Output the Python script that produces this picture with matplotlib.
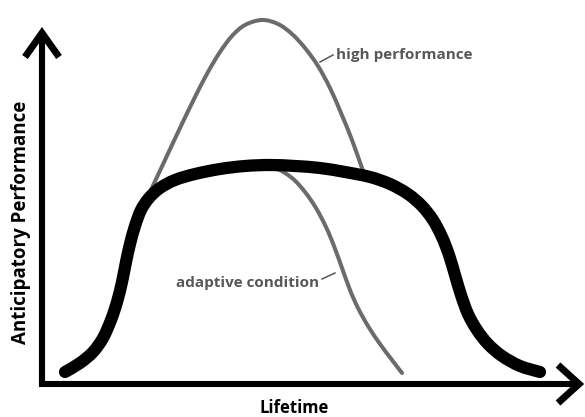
import matplotlib
matplotlib.use("Agg")
import matplotlib.pyplot as plt
from matplotlib.path import Path
from matplotlib.patches import PathPatch

# readings: x = lifetime, y = anticipatory performance (arbitrary units)
adaptive_x = [23, 38, 51, 61, 69, 75, 80, 84, 88, 93, 99, 107, 118, 133, 153, 178, 203, 228, 253,
              278, 303, 328, 348, 366, 380, 391, 400, 407, 413, 419, 426, 435, 446, 460, 478, 498]
adaptive_y = [12, 21, 32, 46, 64, 82, 102, 122, 140, 158, 174, 186, 196, 204, 210, 215, 218, 219, 218,
              216, 212, 207, 200, 190, 178, 164, 147, 129, 109, 89, 70, 54, 40, 28, 18, 12]

high_x = [108, 123, 138, 153, 166, 178, 190, 203, 220, 236, 250, 263, 276, 288, 299, 310, 320, 324]
high_y = [192, 224, 256, 287, 312, 332, 348, 359, 364, 360, 350, 336, 318, 296, 271, 244, 216, 206]

cond_x = [213, 233, 250, 263, 274, 284, 292, 300, 308, 316, 326, 338, 350, 360]
cond_y = [218, 216, 206, 192, 176, 157, 138, 116, 94, 76, 58, 40, 24, 11]

grey = "#6b6b6b"
label_grey = "#585858"
plt.rcParams['font.family'] = ['Open Sans', 'DejaVu Sans']


def smooth_path(xs, ys):
    # bezier path through the read points (catmull-rom style handles)
    pts = list(zip(xs, ys))
    verts = [pts[0]]
    codes = [Path.MOVETO]
    for i in range(len(pts) - 1):
        p0 = pts[i - 1] if i > 0 else pts[i]
        p1 = pts[i]
        p2 = pts[i + 1]
        p3 = pts[i + 2] if i + 2 < len(pts) else pts[i + 1]
        c1 = (p1[0] + (p2[0] - p0[0]) / 6, p1[1] + (p2[1] - p0[1]) / 6)
        c2 = (p2[0] - (p3[0] - p1[0]) / 6, p2[1] - (p3[1] - p1[1]) / 6)
        verts += [c1, c2, p2]
        codes += [Path.CURVE4] * 3
    return Path(verts, codes)


fig = plt.figure(figsize=(5.85, 4.17), dpi=100)
ax = fig.add_axes([0, 0, 1, 1])
ax.set_xlim(-42, 543)
ax.set_ylim(-33, 384)
ax.axis("off")

# axes with arrow heads
ax.plot([-3, 537], [0, 0], color="black", lw=4.4, solid_capstyle="butt", zorder=5)
ax.plot([0, 0], [-3, 352], color="black", lw=4.4, solid_capstyle="butt", zorder=5)
ax.plot([-17, 0, 17], [327, 351, 327], color="black", lw=5, solid_joinstyle="miter",
        solid_capstyle="butt", zorder=5)
ax.plot([516, 537, 516], [19, 0, -19], color="black", lw=5, solid_joinstyle="miter",
        solid_capstyle="butt", zorder=5)

# curves
ax.add_patch(PathPatch(smooth_path(high_x, high_y), fill=False, edgecolor=grey, lw=2.9,
                       capstyle="round", joinstyle="round", zorder=2))
ax.add_patch(PathPatch(smooth_path(cond_x, cond_y), fill=False, edgecolor=grey, lw=2.9,
                       capstyle="round", joinstyle="round", zorder=2))
ax.add_patch(PathPatch(smooth_path(adaptive_x, adaptive_y), fill=False, edgecolor="black", lw=8.8,
                       capstyle="round", joinstyle="round", zorder=3))

# labels with leader lines
ax.plot([278, 291], [322, 329], color=label_grey, lw=1.1)
ax.text(294, 329, "high performance", color=label_grey, fontsize=11, fontweight="bold",
        ha="left", va="center")
ax.plot([280, 293], [105, 111], color=label_grey, lw=1.1)
ax.text(277, 101, "adaptive condition", color=label_grey, fontsize=11, fontweight="bold",
        ha="right", va="center")

ax.text(-21, 162, "Anticipatory Performance", rotation=90, fontsize=13.5, fontweight="bold",
        ha="center", va="center")
ax.text(252, -29, "Lifetime", fontsize=12, fontweight="bold", ha="center", va="baseline")

fig.savefig("out.png", dpi=100)
